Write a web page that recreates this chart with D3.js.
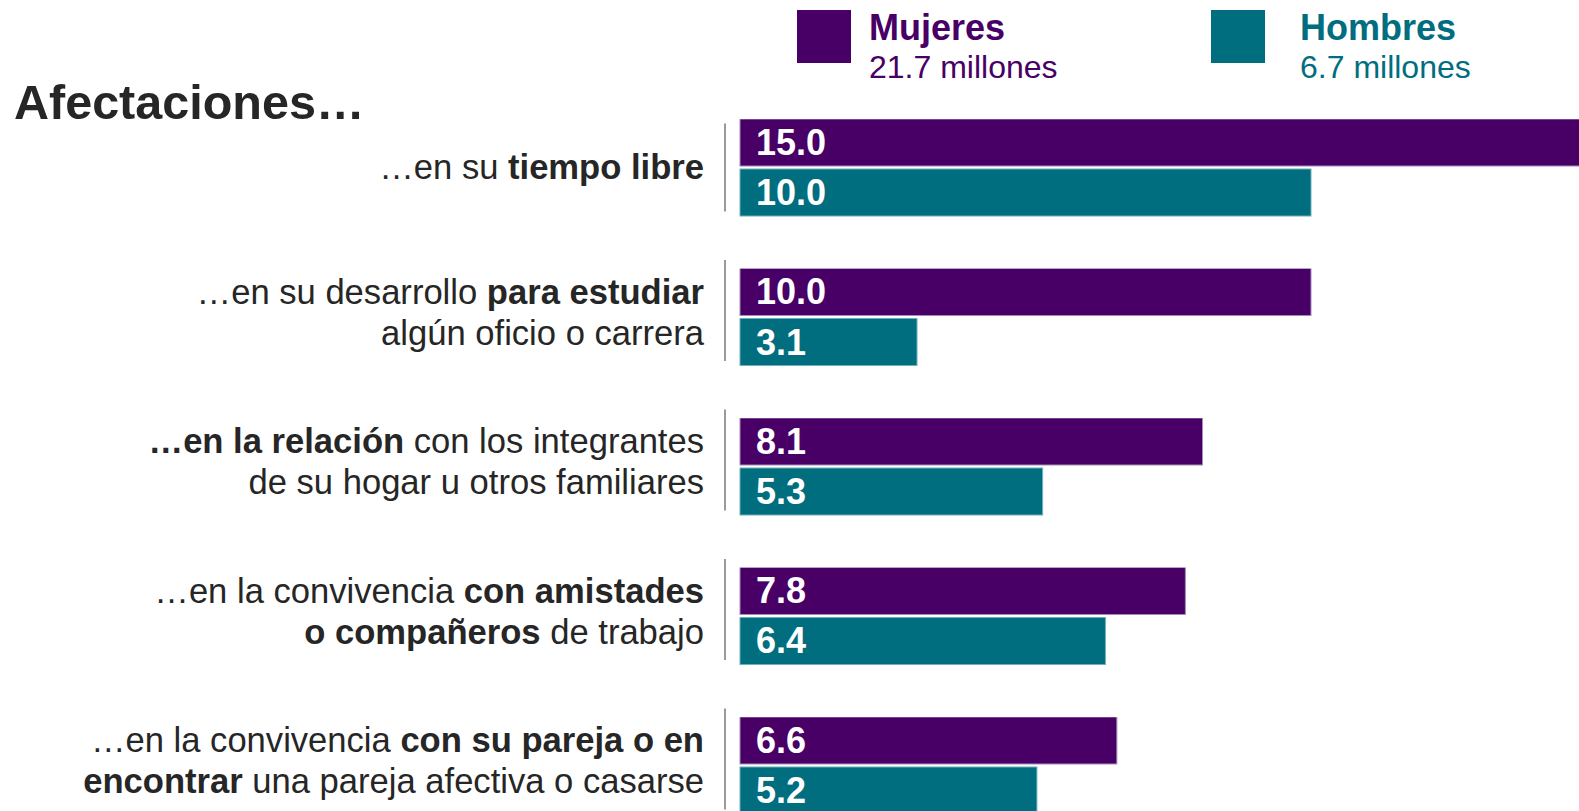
<!DOCTYPE html>
<html>
<head>
<meta charset="utf-8">
<script src="https://cdn.jsdelivr.net/npm/d3@7"></script>
<style>
  html, body { margin: 0; padding: 0; background: #fff; }
  svg { display: block; font-family: "Liberation Sans", Arial, sans-serif; }
</style>
</head>
<body>
<svg id="chart" width="1579" height="811"></svg>
<script>
// ---- data ----
const title = "Afectaciones…";
const categories = [
  ["…en su **tiempo libre**"],
  ["…en su desarrollo **para estudiar**", "algún oficio o carrera"],
  ["**…en la relación** con los integrantes", "de su hogar u otros familiares"],
  ["…en la convivencia **con amistades**", "**o compañeros** de trabajo"],
  ["…en la convivencia **con su pareja o en**", "**encontrar** una pareja afectiva o casarse"]
];
const mujeres = [15.0, 10.0, 8.1, 7.8, 6.6];
const hombres = [10.0, 3.1, 5.3, 6.4, 5.2];
const seriesNames = ["Mujeres", "Hombres"];
const seriesTotals = ["21.7 millones", "6.7 millones"];
const colors = ["#480066", "#006E7F"];
const strokeColors = ["#a38cb8", "#6fb0ba"];

// ---- layout ----
const svg = d3.select("#chart");
const W = 1579, H = 811;
const x = d3.scaleLinear().domain([0, 10]).range([740, 1311]);
const y = d3.scaleBand().domain(d3.range(categories.length)).range([119, 814]).paddingInner(0.351).paddingOuter(0);
const ys = d3.scaleBand().domain([0, 1]).range([0, y.bandwidth()]).paddingInner(0.06);

const defs = svg.append("defs");
defs.append("clipPath").attr("id", "clip").append("rect").attr("x", 0).attr("y", 0).attr("width", W).attr("height", H);

// title
svg.append("text").attr("x", 14).attr("y", 119)
  .attr("font-size", 48.5).attr("font-weight", "bold").attr("fill", "#262626")
  .text(title);

// legend
const legX = [797, 1211];
const legTextX = [869, 1300];
seriesNames.forEach((name, i) => {
  const g = svg.append("g");
  g.append("rect").attr("x", legX[i]).attr("y", 10).attr("width", 54).attr("height", 53).attr("fill", colors[i]);
  g.append("text").attr("x", legTextX[i]).attr("y", 40)
    .attr("font-size", 36).attr("font-weight", "bold").attr("fill", colors[i]).text(name);
  g.append("text").attr("x", legTextX[i]).attr("y", 78)
    .attr("font-size", 32).attr("fill", colors[i]).text(seriesTotals[i]);
});

// groups
const data = categories.map((c, i) => ({ label: c, vals: [mujeres[i], hombres[i]] }));
const groups = svg.selectAll("g.grp").data(data).join("g").attr("class", "grp")
  .attr("transform", (d, i) => `translate(0,${y(i)})`);

groups.each(function(d, i) {
  const g = d3.select(this);
  const bw = y.bandwidth();
  const c = bw / 2;
  const n = d.label.length;
  // separator line
  g.append("line").attr("x1", 725).attr("x2", 725)
    .attr("y1", c - 44 - 13 * (n - 1)).attr("y2", c + 44)
    .attr("stroke", "#9a9a9a").attr("stroke-width", 2);
  // label
  const baselines = n === 1 ? [c + 11] : [c - 13, c + 28];
  d.label.forEach((line, li) => {
    const t = g.append("text").attr("x", 704).attr("y", baselines[li])
      .attr("text-anchor", "end").attr("font-size", 34.6).attr("fill", "#262626");
    const parts = line.split("**");
    parts.forEach((p, pi) => {
      if (p.length === 0) return;
      t.append("tspan").attr("font-weight", pi % 2 === 1 ? "bold" : "normal").text(p);
    });
  });
  // bars
  d.vals.forEach((v, si) => {
    const top = ys(si);
    g.append("rect").attr("clip-path", "url(#clip)")
      .attr("x", x(0)).attr("y", top)
      .attr("width", x(v) - x(0)).attr("height", ys.bandwidth())
      .attr("fill", colors[si]).attr("stroke", strokeColors[si]).attr("stroke-width", 1);
    g.append("text").attr("x", x(0) + 16).attr("y", top + ys.bandwidth() / 2 + 12.5)
      .attr("font-size", 36).attr("font-weight", "bold").attr("fill", "#fff")
      .text(d3.format(".1f")(v));
  });
});
</script>
</body>
</html>
